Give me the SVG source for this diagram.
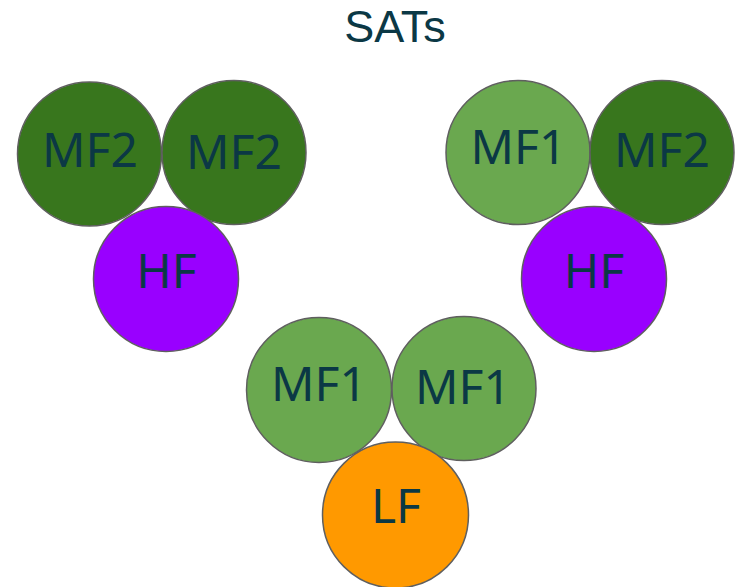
<svg xmlns="http://www.w3.org/2000/svg" width="736" height="587" viewBox="0 0 736 587">
<style>
circle{stroke:#5f5f5f;stroke-width:1.5}
.mf2{fill:#38761d}
.mf1{fill:#6aa84f}
.hf{fill:#9900ff}
.lf{fill:#ff9900}
text{font-family:"Noto Sans","Liberation Sans",sans-serif;fill:#0b3845;text-anchor:middle}
.lbl{font-size:48px}
.title{font-family:"Liberation Sans",sans-serif;font-size:45px}
</style>
<rect width="736" height="587" fill="#ffffff"/>
<text class="title" x="395" y="42">SATs</text>
<g id="group-left">
<g id="left-mf2-a"><circle class="mf2" cx="89.5" cy="154" r="72"/><text class="lbl" x="90" y="167">MF2</text></g>
<g id="left-mf2-b"><circle class="mf2" cx="234" cy="152.5" r="72"/><text class="lbl" x="234" y="169">MF2</text></g>
<g id="left-hf"><circle class="hf" cx="166" cy="279" r="72.5"/><text class="lbl" x="166.5" y="288">HF</text></g>
</g>
<g id="group-right">
<g id="right-mf1"><circle class="mf1" cx="518" cy="152.5" r="72"/><text class="lbl" x="518.5" y="164">MF1</text></g>
<g id="right-mf2"><circle class="mf2" cx="662" cy="152.5" r="72"/><text class="lbl" x="662" y="167">MF2</text></g>
<g id="right-hf"><circle class="hf" cx="594" cy="279" r="72.5"/><text class="lbl" x="594" y="288">HF</text></g>
</g>
<g id="group-bottom">
<g id="bottom-mf1-a"><circle class="mf1" cx="319" cy="390" r="72.5"/><text class="lbl" x="319" y="401">MF1</text></g>
<g id="bottom-mf1-b"><circle class="mf1" cx="464" cy="388.5" r="72"/><text class="lbl" x="463" y="404">MF1</text></g>
<g id="bottom-lf"><circle class="lf" cx="395.5" cy="515" r="73"/><text class="lbl" x="396" y="523">LF</text></g>
</g>
<g id="connectors"/>
</svg>
